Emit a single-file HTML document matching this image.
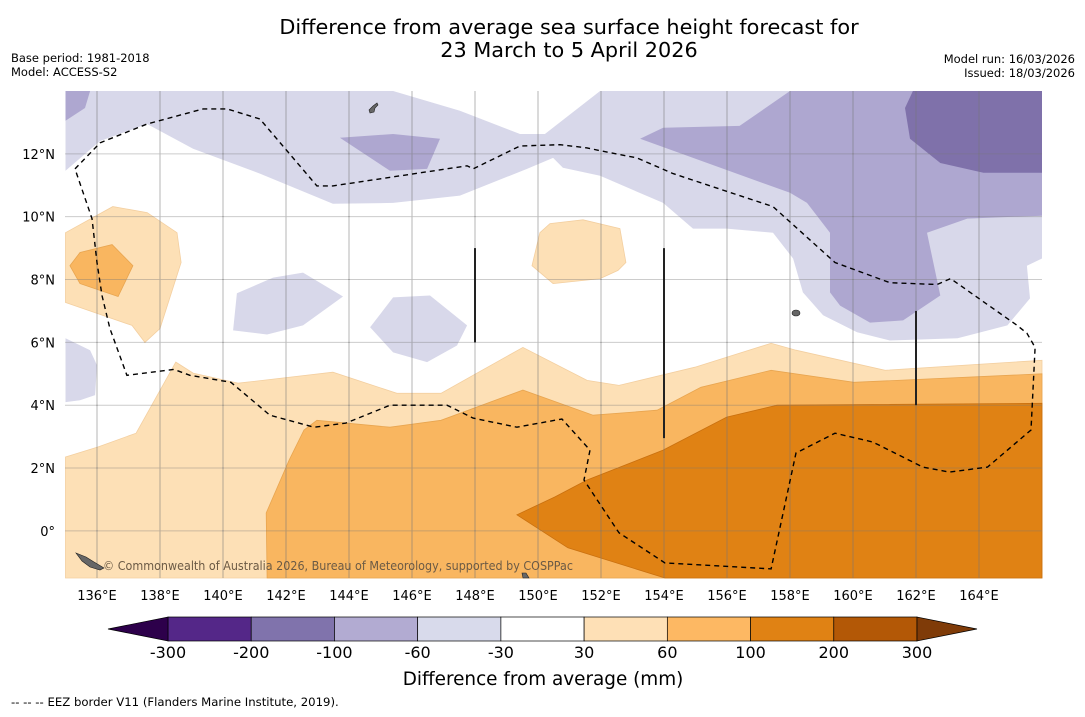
<!DOCTYPE html>
<html><head><meta charset="utf-8">
<style>
html,body{margin:0;padding:0;background:#fff;}
body{width:1085px;height:713px;overflow:hidden;font-family:"DejaVu Sans",sans-serif;}
</style></head>
<body>
<svg id="chart" width="1085" height="713" viewBox="0 0 1085 713" xmlns="http://www.w3.org/2000/svg" font-family="DejaVu Sans, sans-serif">
  <rect x="0" y="0" width="1085" height="713" fill="#fff"/>
  <text x="569" y="34" font-size="20.8" text-anchor="middle" fill="#000">Difference from average sea surface height forecast for</text>
  <text x="569" y="57" font-size="20.8" text-anchor="middle" fill="#000">23 March to 5 April 2026</text>
  <text x="11" y="62" font-size="11.5" fill="#000">Base period: 1981-2018</text>
  <text x="11" y="76" font-size="11.5" fill="#000">Model: ACCESS-S2</text>
  <text x="1075" y="63" font-size="11.5" text-anchor="end" fill="#000">Model run: 16/03/2026</text>
  <text x="1075" y="77" font-size="11.5" text-anchor="end" fill="#000">Issued: 18/03/2026</text>
  <g id="map"></g>
  <g id="cbar"></g>
  <text x="543" y="685" font-size="18.4" text-anchor="middle" fill="#000">Difference from average (mm)</text>
  <text x="11" y="706" font-size="11.7" fill="#000">--  --  -- EEZ border V11 (Flanders Marine Institute, 2019).</text>
</svg>
<script>
var NS="http://www.w3.org/2000/svg";
// axis extents
var lonMin=135, lonMax=166, latMin=-1.5, latMax=14;
var lonTicks=[136,138,140,142,144,146,148,150,152,154,156,158,160,162,164];
var latTicks=[0,2,4,6,8,10,12];
// colour levels
var levels=[-300,-200,-100,-60,-30,30,60,100,200,300];
var levelColors=["#542788","#8073ac","#b2abd2","#d8daeb","#ffffff","#fee0b6","#fdb863","#e08214","#b35806"];
var extendColors=["#2d004b","#7f3b08"];
// contour regions (lon, lat)
var lightPurpleBand=[[135,14],[145.4,14],[147.52,13.37],[149.43,12.63],[150.22,12.63],[151.97,14],[166,14],[166,8.67],[165.52,8.44],[165.62,7.4],[164.9,6.54],[163.32,6.13],[161.17,6.06],[160.13,6.32],[159.05,6.86],[158.41,7.59],[158.1,8.67],[157.46,9.49],[155.99,9.62],[154.92,9.62],[153.97,10.44],[151.97,11.3],[150.79,11.56],[150.48,11.87],[149.65,11.52],[147.52,10.67],[145.4,10.44],[143.49,10.41],[141.17,11.37],[139.05,12.16],[137.59,12.95],[136.1,12.41],[135,11.46]];
var lightPurpleBlob1=[[140.44,7.56],[141.59,8.06],[142.54,8.22],[143.81,7.46],[142.54,6.54],[141.4,6.25],[140.32,6.38]];
var lightPurpleBlob2=[[145.4,7.43],[146.57,7.49],[147.75,6.54],[147.43,5.9],[146.48,5.37],[145.4,5.68],[144.67,6.48]];
var lightPurpleBlob3=[[135,6.13],[135.78,5.75],[136,5.27],[135.94,4.32],[135.46,4.16],[135,4.1]];
var medPurpleEast=[[153.24,12.48],[153.97,12.83],[156.4,12.89],[158,14],[166,14],[166,10.03],[163.63,9.94],[162.35,9.49],[162.77,7.49],[161.59,6.7],[160.54,6.63],[159.59,7.17],[159.27,7.59],[159.27,9.49],[158.54,10.44],[158,10.76]];
var medPurpleCorner=[[135,14],[135.78,14],[135.62,13.46],[135,13.05]];
var medPurpleMid=[[143.71,12.51],[145.4,12.63],[146.89,12.48],[146.48,11.52],[145.3,11.46]];
var darkPurple=[[161.9,14],[161.65,13.46],[161.81,12.48],[162.77,11.71],[164.14,11.4],[166,11.4],[166,14]];
var lightOrangeWest=[[135,9.49],[136.5,10.32],[137.59,10.13],[138.54,9.49],[138.67,8.54],[138,6.44],[137.52,6],[137.11,6.54],[135,7.27]];
var medOrangeWest=[[135.14,8.44],[135.46,8.86],[136.48,9.11],[137.14,8.44],[136.67,7.46],[135.46,7.87]];
var lightOrangeMid=[[150.06,9.49],[150.38,9.78],[151.43,9.9],[152.6,9.62],[152.79,8.54],[152.54,8.29],[151.97,8.03],[150.48,7.87],[149.81,8.44]];
var lightOrangeSouth=[[135,2.35],[136.03,2.67],[137.24,3.11],[138.5,5.37],[139.05,5.02],[140.48,4.7],[143.49,5.05],[145.52,4.38],[146.92,4.38],[149.52,5.84],[151.56,4.79],[152.57,4.63],[154.98,5.21],[157.4,5.97],[158.19,5.75],[161.02,5.11],[166,5.43],[166,-1.5],[135,-1.5]];
var medOrangeSouth=[[141.4,-1.5],[141.37,0.57],[142.1,2.25],[142.57,3.21],[142.98,3.52],[145.3,3.3],[146.92,3.52],[149.52,4.48],[151.75,3.68],[153.78,3.84],[155.17,4.57],[157.4,5.11],[160.03,4.73],[166,5.0],[166,-1.5]];
var darkOrangeSouth=[[149.33,0.51],[150.54,1.08],[151.56,1.62],[153.97,2.57],[155.99,3.62],[157.59,4],[166,4.06],[166,-1.5],[154.03,-1.5],[150.95,-0.54]];
var eezLoop=[[135.3,11.52],[136.1,12.35],[137.59,12.95],[139.37,13.43],[140.13,13.43],[141.17,13.11],[142.98,10.98],[143.49,10.98],[147.75,11.62],[147.94,11.52],[149.43,12.25],[150.7,12.29],[151.56,12.19],[151.97,12.1],[153.14,11.87],[154.29,11.37],[156.4,10.67],[157.46,10.32],[159.43,8.54],[161.17,7.9],[162.67,7.84],[163.1,8.03],[165.21,6.54],[165.52,6.29],[165.78,5.84],[165.65,3.21],[164.27,2.03],[163.06,1.87],[162.22,2.03],[160.63,2.83],[159.43,3.11],[158.19,2.48],[157.4,-1.21],[154.03,-1.02],[152.57,-0.06],[151.46,1.62],[151.65,2.57],[150.76,3.56],[149.33,3.3],[147.94,3.59],[147.11,4],[145.3,4],[143.9,3.43],[142.89,3.3],[141.49,3.68],[140.25,4.73],[138.95,4.95],[138.44,5.14],[136.95,4.95],[136.41,6.44],[136.16,7.49],[136,8.54],[135.84,9.94],[135.3,11.52]];
var boundarySegments=[[[148,9],[148,6]],[[154,9],[154,2.95]],[[162,7],[162,4]]];

var X0=65.5, X1=1042, Y0=91, Y1=578;
function xS(lon){return X0+(lon-lonMin)/(lonMax-lonMin)*(X1-X0);}
function yS(lat){return Y1-(lat-latMin)/(latMax-latMin)*(Y1-Y0);}
function pts(a){return a.map(function(p){return xS(p[0]).toFixed(1)+","+yS(p[1]).toFixed(1);}).join(" ");}
var map=document.getElementById("map");
function poly(parent,data,fill,name,stroke){
  var e=document.createElementNS(NS,"polygon");
  e.setAttribute("points",pts(data));
  e.setAttribute("fill",fill);
  if(stroke){e.setAttribute("stroke",stroke);e.setAttribute("stroke-width","0.8");}
  
  
  parent.appendChild(e);return e;
}
var cLP="#d8d8ea", cMP="#aea7d0", cDP="#7f71aa", cLO="#fde0b6", cMO="#f9b660", cDO="#e08214";
poly(map,lightPurpleBand,cLP,"contour-minus30-band");
poly(map,lightPurpleBlob1,cLP,"contour-minus30-blob-west");
poly(map,lightPurpleBlob2,cLP,"contour-minus30-blob-central");
poly(map,lightPurpleBlob3,cLP,"contour-minus30-blob-edge");
poly(map,medPurpleEast,cMP,"contour-minus60-east");
poly(map,medPurpleCorner,cMP,"contour-minus60-corner");
poly(map,medPurpleMid,cMP,"contour-minus60-mid");
poly(map,darkPurple,cDP,"contour-minus100-northeast");
poly(map,lightOrangeWest,cLO,"contour-30-west","#f3cfa0");
poly(map,medOrangeWest,cMO,"contour-60-west","#e8a550");
poly(map,lightOrangeMid,cLO,"contour-30-mid","#f3cfa0");
poly(map,lightOrangeSouth,cLO,"contour-30-south","#f3cfa0");
poly(map,medOrangeSouth,cMO,"contour-60-south","#e8a550");
poly(map,darkOrangeSouth,cDO,"contour-100-south","#c9700f");

// gridlines
lonTicks.forEach(function(t){
  var l=document.createElementNS(NS,"line");
  l.setAttribute("x1",xS(t));l.setAttribute("x2",xS(t));l.setAttribute("y1",Y0);l.setAttribute("y2",Y1);
  l.setAttribute("stroke","#777");l.setAttribute("stroke-opacity","0.55");l.setAttribute("stroke-width","1");
  
  
  map.appendChild(l);
  var tx=document.createElementNS(NS,"text");
  tx.setAttribute("x",xS(t));tx.setAttribute("y",600);tx.setAttribute("font-size","13");tx.setAttribute("text-anchor","middle");
  tx.textContent=t+"°E";
  
  
  map.appendChild(tx);
});
latTicks.forEach(function(t){
  var l=document.createElementNS(NS,"line");
  l.setAttribute("x1",X0);l.setAttribute("x2",X1);l.setAttribute("y1",yS(t));l.setAttribute("y2",yS(t));
  l.setAttribute("stroke","#777");l.setAttribute("stroke-opacity","0.75");l.setAttribute("stroke-width","1");l.setAttribute("stroke-dasharray","1,1");
  
  
  map.appendChild(l);
  var tx=document.createElementNS(NS,"text");
  tx.setAttribute("x",55);tx.setAttribute("y",yS(t)+5);tx.setAttribute("font-size","13");tx.setAttribute("text-anchor","end");
  tx.textContent=t===0?"0°":t+"°N";
  
  
  map.appendChild(tx);
});
// boundary segments
boundarySegments.forEach(function(s){
  var l=document.createElementNS(NS,"line");
  l.setAttribute("x1",xS(s[0][0]));l.setAttribute("y1",yS(s[0][1]));l.setAttribute("x2",xS(s[1][0]));l.setAttribute("y2",yS(s[1][1]));
  l.setAttribute("stroke","#222");l.setAttribute("stroke-width","2");
  
  
  map.appendChild(l);
});
// EEZ dashed
var eez=document.createElementNS(NS,"polyline");
eez.setAttribute("points",pts(eezLoop));eez.setAttribute("fill","none");eez.setAttribute("stroke","#000");
eez.setAttribute("stroke-width","1.4");eez.setAttribute("stroke-dasharray","5,4");


map.appendChild(eez);
// a few islands
var isl=document.createElementNS(NS,"path");
isl.setAttribute("d","M369,110 l4,-4 l4,-3 l1,2 l-3,3 l-1,4 l-4,1z M792,313 a4,3 0 1,0 8,0 a4,3 0 1,0 -8,0z M76,553 l10,4 l8,5 l10,6 l-4,2 l-10,-3 l-8,-6z M522,573 l4,0 l3,5 l-6,0z");
isl.setAttribute("fill","#666");isl.setAttribute("stroke","#222");isl.setAttribute("stroke-width","0.6");


map.appendChild(isl);
var cp=document.createElementNS(NS,"text");
cp.setAttribute("x",103);cp.setAttribute("y",570);cp.setAttribute("font-size","12.5");cp.setAttribute("fill","#6b5a45");
cp.setAttribute("textLength","470");cp.setAttribute("lengthAdjust","spacingAndGlyphs");
cp.textContent="© Commonwealth of Australia 2026, Bureau of Meteorology, supported by COSPPac";


map.appendChild(cp);

// colorbar
var cb=document.getElementById("cbar");
var CB0=168, CB1=917, CBy=617, CBh=24;
var seg=(CB1-CB0)/levelColors.length;
levelColors.forEach(function(c,i){
  var r=document.createElementNS(NS,"rect");
  r.setAttribute("x",CB0+i*seg);r.setAttribute("y",CBy);r.setAttribute("width",seg);r.setAttribute("height",CBh);
  r.setAttribute("fill",c);r.setAttribute("stroke","#000");r.setAttribute("stroke-width","0.7");
  
  
  cb.appendChild(r);
});
var tl=document.createElementNS(NS,"polygon");
tl.setAttribute("points",CB0+","+CBy+" "+CB0+","+(CBy+CBh)+" 108,"+(CBy+CBh/2));
tl.setAttribute("fill",extendColors[0]);tl.setAttribute("stroke","#000");tl.setAttribute("stroke-width","0.7");


cb.appendChild(tl);
var tr=document.createElementNS(NS,"polygon");
tr.setAttribute("points",CB1+","+CBy+" "+CB1+","+(CBy+CBh)+" 977,"+(CBy+CBh/2));
tr.setAttribute("fill",extendColors[1]);tr.setAttribute("stroke","#000");tr.setAttribute("stroke-width","0.7");


cb.appendChild(tr);
levels.forEach(function(v,i){
  var t=document.createElementNS(NS,"text");
  t.setAttribute("x",CB0+i*seg);t.setAttribute("y",658);t.setAttribute("font-size","16");t.setAttribute("text-anchor","middle");
  t.textContent=v;
  
  
  cb.appendChild(t);
});
</script>
</body></html>
